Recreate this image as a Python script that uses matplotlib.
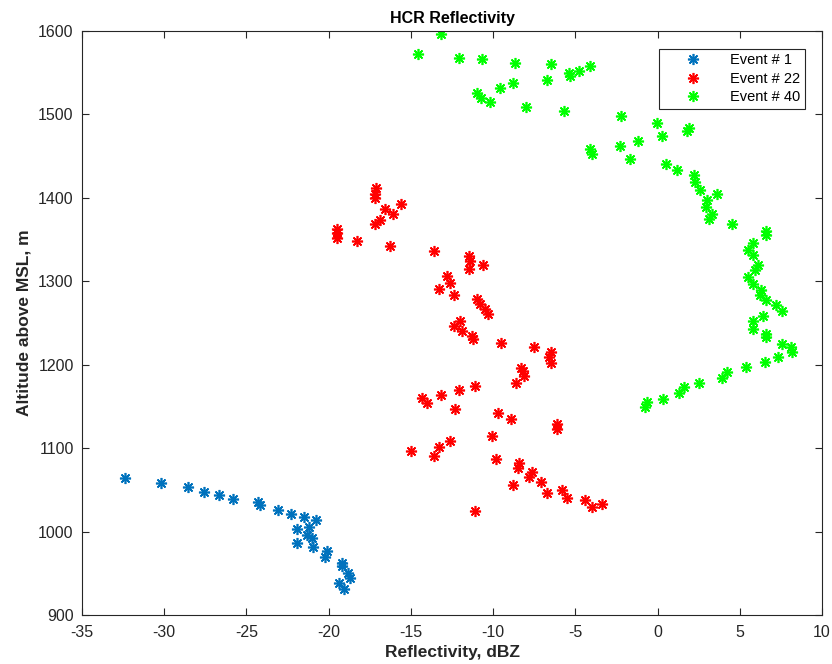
import numpy as np
import matplotlib
matplotlib.use('Agg')
import matplotlib.pyplot as plt

plt.rcParams['font.family'] = ['Liberation Sans', 'DejaVu Sans']
plt.rcParams['axes.unicode_minus'] = False  # MATLAB-like "-35"

# Event # 1 (blue)
ev1_dbz = [-32.4, -30.2, -28.55, -27.6, -26.7, -25.8, -24.3, -24.2, -23.1, -22.3,
           -21.5, -20.8, -21.9, -21.2, -21.3, -21.0, -21.9, -20.95, -20.1, -20.2,
           -19.2, -19.2, -18.8, -18.7, -19.4, -19.1]
ev1_alt = [1064, 1058, 1053, 1047, 1044, 1039, 1035, 1032, 1026, 1021,
           1017, 1014, 1003, 1006, 996, 992, 986, 981, 977, 969,
           962, 959, 950, 944, 938, 931]

# Event # 22 (red)
ev22_dbz = [-17.1, -17.2, -17.2, -15.6, -16.6, -16.1, -16.9, -17.2, -19.5, -19.5,
            -19.5, -18.3, -16.3, -13.6, -11.45, -11.4, -11.45, -10.6, -12.8, -12.6,
            -13.3, -12.4, -11.0, -10.8, -10.5, -10.3, -12.0, -12.4, -11.9, -11.3,
            -11.2, -9.5, -7.5, -6.5, -6.6, -6.5, -8.3, -8.2, -8.1, -8.6,
            -11.1, -12.1, -13.2, -14.3, -14.0, -12.3, -9.7, -8.9, -6.1, -6.1,
            -10.1, -12.6, -13.3, -15.0, -13.6, -9.8, -8.4, -8.5, -7.65, -7.8,
            -7.1, -8.8, -5.8, -6.7, -5.5, -4.4, -4.0, -3.4, -11.1]
ev22_alt = [1412, 1405, 1400, 1393, 1387, 1381, 1374, 1369, 1363, 1358,
            1352, 1348, 1342, 1336, 1330, 1324, 1315, 1319, 1306, 1298,
            1291, 1284, 1279, 1273, 1267, 1261, 1252, 1246, 1241, 1235,
            1231, 1226, 1221, 1215, 1209, 1202, 1196, 1193, 1187, 1178,
            1174, 1170, 1164, 1160, 1154, 1147, 1142, 1135, 1129, 1123,
            1115, 1109, 1101, 1097, 1090, 1087, 1082, 1076, 1072, 1066,
            1060, 1056, 1050, 1046, 1040, 1038, 1030, 1033, 1025]

# Event # 40 (green)
ev40_dbz = [-13.2, -14.55, -12.1, -10.7, -8.7, -6.5, -4.1, -4.8, -5.4, -5.3,
            -6.7, -8.8, -9.6, -11.0, -10.75, -10.2, -8.0, -5.7, -2.2, -0.05,
            1.9, 1.8, 0.25, -1.2, -2.3, -4.1, -4.0, -1.7, 0.5, 1.2,
            2.2, 2.3, 2.6, 3.6, 3.0, 2.95, 3.3, 3.1, 4.5, 6.6,
            6.6, 5.8, 5.5, 5.8, 6.1, 5.9, 5.5, 5.8, 6.3, 6.2,
            6.6, 7.2, 7.55, 6.4, 5.8, 5.8, 6.6, 6.6, 7.55, 8.1,
            8.2, 7.3, 6.5, 5.4, 4.2, 3.9, 2.5, 1.6, 1.3, 0.35,
            -0.65, -0.75]
ev40_alt = [1597, 1572, 1568, 1566, 1562, 1560, 1558, 1552, 1550, 1546,
            1541, 1538, 1532, 1526, 1520, 1515, 1509, 1504, 1498, 1490,
            1484, 1480, 1474, 1468, 1462, 1458, 1453, 1446, 1440, 1433,
            1427, 1419, 1409, 1405, 1397, 1389, 1381, 1375, 1369, 1360,
            1355, 1346, 1338, 1331, 1319, 1313, 1305, 1297, 1290, 1283,
            1277, 1271, 1264, 1258, 1252, 1243, 1237, 1233, 1225, 1221,
            1215, 1209, 1203, 1197, 1191, 1184, 1178, 1173, 1166, 1159,
            1155, 1149]

series_labels = ['Event # 1', 'Event # 22', 'Event # 40']
series_colors = ['#0072BD', '#FF0000', '#00FF00']

axis_color = '#262626'


def make_plot():
    fig = plt.figure(figsize=(8.32, 6.64), dpi=100)
    ax = fig.add_axes([0.0986, 0.0738, 0.8895, 0.8795])

    data = [(ev1_dbz, ev1_alt), (ev22_dbz, ev22_alt), (ev40_dbz, ev40_alt)]
    # MATLAB-style asterisk: 8 spokes
    for (xs, ys), lab, col in zip(data, series_labels, series_colors):
        ax.plot(xs, ys, linestyle='none', marker=(8, 2, 0), markersize=8,
                markeredgewidth=1.2, color=col, label=lab)

    ax.set_xlim(-35, 10)
    ax.set_ylim(900, 1600)
    ax.set_xticks(np.arange(-35, 11, 5))
    ax.set_yticks(np.arange(900, 1601, 100))

    ax.tick_params(direction='in', top=True, right=True, length=5, width=0.8,
                   labelsize=11.5, colors=axis_color, labelcolor=axis_color)
    ax.tick_params(axis='x', pad=7)
    ax.tick_params(axis='y', pad=6)
    for sp in ax.spines.values():
        sp.set_color(axis_color)
        sp.set_linewidth(0.8)

    ax.set_title('HCR Reflectivity', fontsize=11.5, fontweight='bold', pad=6)
    ax.set_xlabel('Reflectivity, dBZ', fontsize=12.5, fontweight='bold',
                  color=axis_color, labelpad=4)
    ax.set_ylabel('Altitude above MSL, m', fontsize=12.5, fontweight='bold',
                  color=axis_color, labelpad=5)

    leg = ax.legend(loc='upper right', bbox_to_anchor=(0.977, 0.969),
                    fontsize=10.5, fancybox=False, framealpha=1,
                    edgecolor=axis_color, borderpad=0.3, labelspacing=0.3,
                    handlelength=4.1, handletextpad=0.5, borderaxespad=0)
    leg.get_frame().set_linewidth(0.8)

    fig.savefig('out.png', dpi=100)
    plt.close(fig)


if __name__ == "__main__":
    make_plot()
